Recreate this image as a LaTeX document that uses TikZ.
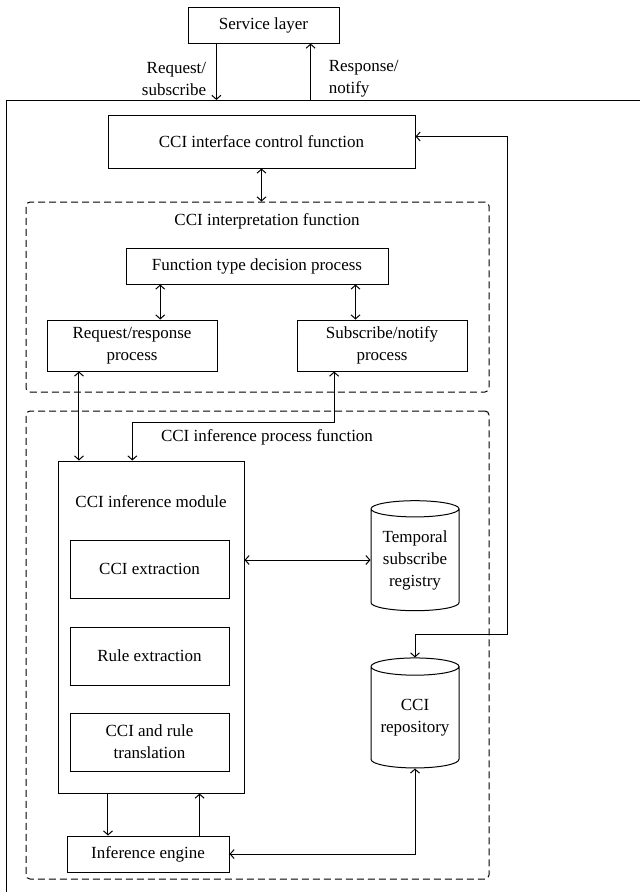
\documentclass[tikz,border=0pt]{standalone}
\usepackage{fontspec}
\setmainfont{Liberation Serif}
\usetikzlibrary{shapes,arrows,arrows.meta,calc}

\begin{document}
\begin{tikzpicture}[x=1pt, y=-1pt, line width=1pt,
    >={Straight Barb[length=4pt,width=9pt]},
    font=\fontsize{17}{22}\selectfont]

    % Define block styles
    \tikzstyle{block} = [rectangle, draw, align=center, inner sep=0pt]
    \tikzstyle{group} = [rectangle, draw, dash pattern=on 7pt off 4pt,
        rounded corners=4pt, inner sep=0pt]
    \tikzstyle{store} = [cylinder, shape border rotate=90, draw, aspect=0.25,
        align=center, inner sep=0pt, minimum width=88pt, minimum height=110pt]
    \tikzstyle{line} = [draw, ->]
    \tikzstyle{dline} = [draw, <->]

    \useasboundingbox (0,0) rectangle (640,892);

    % Place nodes
    \node [block, minimum width=151pt, minimum height=36pt] (service) at (263.5,25) {Service layer};
    \node [anchor=east, align=right] (reqlabel) at (210,79) {Request/\\subscribe};
    \node [anchor=west, align=left] (resplabel) at (325,79) {Response/\\notify};
    \node [block, minimum width=307pt, minimum height=53pt] (iface) at (261.5,141.5) {CCI interface control function};

    \node [group, minimum width=463pt, minimum height=190pt] (interp) at (257.5,297) {};
    \node (interptitle) at (267,221) {CCI interpretation function};
    \node [block, minimum width=262pt, minimum height=36pt] (ftype) at (257,266) {Function type decision process};
    \node [block, minimum width=170pt, minimum height=51pt] (reqresp) at (132,345.5) {Request/response\\process};
    \node [block, minimum width=170pt, minimum height=51pt] (subnot) at (382,345.5) {Subscribe/notify\\process};

    \node [group, minimum width=463pt, minimum height=468pt] (infer) at (257.5,645) {};
    \node (infertitle) at (267,437) {CCI inference process function};
    \node [block, minimum width=186pt, minimum height=332pt] (module) at (151,627) {};
    \node (moduletitle) at (151,502) {CCI inference module};
    \node [block, minimum width=159pt, minimum height=58pt] (ccix) at (149.5,569) {CCI extraction};
    \node [block, minimum width=159pt, minimum height=58pt] (rulex) at (149.5,656) {Rule extraction};
    \node [block, minimum width=159pt, minimum height=58pt] (trans) at (149.5,742) {CCI and rule\\translation};
    \node [block, minimum width=162pt, minimum height=36pt] (engine) at (148,854) {Inference engine};
    \node [store] (temporal) at (415,560) {Temporal\\subscribe\\registry};
    \node [store] (repo) at (415,717.5) {CCI\\repository};

    % Outer frame
    \coordinate (frame) at (6,100);
    \draw (6,892) |- (640,100);

    % Draw edges
    \coordinate (req) at ($(service.south west)!0.19!(service.south east)$);
    \coordinate (resp) at ($(service.south west)!0.81!(service.south east)$);
    \path [line] (req) -- (req |- frame);
    \path [line] (resp |- frame) -- (resp);
    \path [dline] (iface.south) -- (iface.south |- interp.north);

    \coordinate (a1) at ($(reqresp.north)!0.33!(reqresp.north east)$);
    \coordinate (a2) at ($(subnot.north)!0.31!(subnot.north west)$);
    \path [dline] (ftype.south -| a1) -- (a1);
    \path [dline] (ftype.south -| a2) -- (a2);

    \coordinate (b1) at ($(reqresp.south west)!0.19!(reqresp.south east)$);
    \coordinate (b2) at ($(subnot.south west)!0.22!(subnot.south east)$);
    \coordinate (b3) at ($(module.north west)!0.4!(module.north east)$);
    \path [dline] (b1) -- (b1 |- module.north);
    \path [dline] (b2) -- ++(0,51) -| (b3);

    \path [dline] (module.east |- temporal.west) -- (temporal.west);

    \coordinate (c1) at ($(module.south west)!0.27!(module.south east)$);
    \coordinate (c2) at ($(module.south west)!0.76!(module.south east)$);
    \path [line] (c1) -- (c1 |- engine.north);
    \path [line] (c2 |- engine.north) -- (c2);

    \path [dline] (repo.south) |- (engine.east);
    \coordinate (loop) at (507,634);
    \path [dline] ($(iface.east)+(0,-5)$) -| (loop) -| (repo.north);

\end{tikzpicture}
\end{document}
